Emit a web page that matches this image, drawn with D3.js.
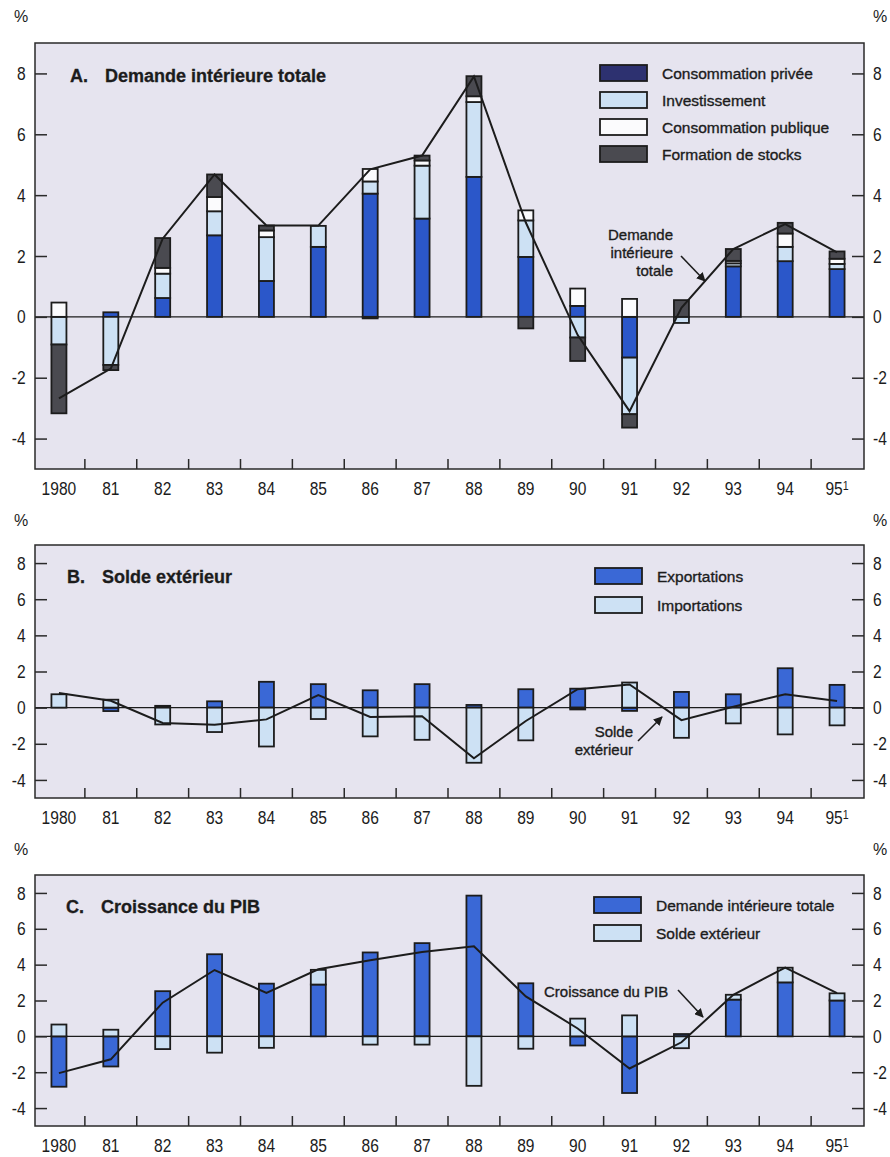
<!DOCTYPE html>
<html>
<head>
<meta charset="utf-8">
<script src="https://cdn.jsdelivr.net/npm/d3@7"></script>
<style>
  body { margin: 0; background: #fff; }
  svg { display: block; }
  text { font-family: "Liberation Sans", Arial, Helvetica, sans-serif; fill: #1c1c1c; }
  .tick text { font-family: "Liberation Sans", Arial, sans-serif; font-size: 19px; fill: #1c1c1c; }
  .pct { font-size: 16px; }
  .title { font-weight: bold; font-size: 18px; stroke: #1c1c1c; stroke-width: 0.3px; }
  .legend-text { font-size: 15.5px; stroke: #1c1c1c; stroke-width: 0.35px; }
  .note { font-size: 15px; stroke: #1c1c1c; stroke-width: 0.35px; }
</style>
</head>
<body>
<svg id="chart" width="890" height="1157"></svg>
<script>
// ---- Categories and ticks ----
const years = ["1980", "81", "82", "83", "84", "85", "86", "87", "88", "89", "90", "91", "92", "93", "94", "95"];
const yTicks = [-4, -2, 0, 2, 4, 6, 8];

// ---- A. Demande intérieure totale (contributions, %) ----
const consoPrivee   = [0.00, 0.15, 0.62, 2.68, 1.18, 2.30, 4.05, 3.23, 4.60, 1.97, 0.36, -1.34, 0.00, 1.66, 1.83, 1.57];
const investissement = [-0.91, -1.58, 0.80, 0.79, 1.44, 0.69, 0.40, 1.74, 2.46, 1.20, -0.68, -1.86, -0.20, 0.10, 0.47, 0.17];
const consoPublique = [0.47, 0.00, 0.19, 0.47, 0.22, 0.00, 0.41, 0.17, 0.19, 0.33, 0.57, 0.59, 0.00, 0.08, 0.44, 0.17];
const stocks        = [-2.26, -0.17, 0.98, 0.74, 0.16, 0.00, -0.05, 0.16, 0.66, -0.38, -0.77, -0.44, 0.55, 0.39, 0.35, 0.24];
const demandeTotale = [-2.68, -1.70, 2.57, 4.68, 3.00, 3.00, 4.85, 5.30, 7.90, 3.10, -0.60, -3.10, 0.30, 2.23, 3.05, 2.12];

// ---- B. Solde extérieur ----
const exportations = [0.00, -0.19, 0.10, 0.35, 1.43, 1.30, 0.96, 1.30, 0.15, 1.02, 1.05, -0.18, 0.87, 0.74, 2.18, 1.26];
const importations = [0.74, 0.44, -0.93, -1.35, -2.15, -0.63, -1.59, -1.78, -3.05, -1.81, -0.10, 1.39, -1.67, -0.87, -1.48, -0.98];
const soldeExterieur = [0.81, 0.38, -0.85, -0.95, -0.65, 0.69, -0.52, -0.48, -2.80, -0.74, 1.02, 1.28, -0.69, 0.05, 0.74, 0.37];

// ---- C. Croissance du PIB ----
const contribDemande = [-2.81, -1.68, 2.52, 4.58, 2.94, 2.89, 4.68, 5.20, 7.85, 2.96, -0.51, -3.16, 0.13, 2.05, 3.01, 2.00];
const contribSolde   = [0.66, 0.37, -0.71, -0.91, -0.64, 0.82, -0.46, -0.46, -2.76, -0.69, 0.99, 1.17, -0.66, 0.27, 0.82, 0.40];
const croissancePIB  = [-2.05, -1.28, 1.88, 3.70, 2.43, 3.74, 4.25, 4.71, 5.02, 2.23, 0.44, -1.79, -0.33, 2.32, 3.84, 2.41];

// ---- Styling ----
const C = {
  plotBg: "#e6e4ef",
  blue: "#2b57c9",
  blueB: "#3a68d6",
  navy: "#2d3170",
  light: "#cde1f4",
  white: "#fbfbfd",
  stock: "#4a4a50",
  ink: "#1c1c1c"
};
const narrow = "scale(0.82,1)";

const svg = d3.select("#chart");
const defs = svg.append("defs");
defs.append("marker")
  .attr("id", "arrow")
  .attr("viewBox", "0 0 10 10")
  .attr("refX", 9).attr("refY", 5)
  .attr("markerWidth", 9).attr("markerHeight", 9)
  .attr("markerUnits", "userSpaceOnUse")
  .attr("orient", "auto")
  .append("path").attr("d", "M0,0 L10,5 L0,10 Z").attr("fill", C.ink);

const frameL = 35, frameR = 864;
const x = d3.scaleBand().domain(years).range([33, 863]).padding(0);
const barW = 15;

function drawPanel(p) {
  const g = svg.append("g");
  const y = d3.scaleLinear().domain([-5, 9]).range([p.bottom, p.top]);

  // plot background
  g.append("rect")
    .attr("x", frameL).attr("y", p.top)
    .attr("width", frameR - frameL).attr("height", p.bottom - p.top)
    .attr("fill", C.plotBg);

  // zero line
  g.append("line")
    .attr("x1", frameL).attr("x2", frameR)
    .attr("y1", y(0)).attr("y2", y(0))
    .attr("stroke", C.ink).attr("stroke-width", 1.2);

  // stacked bars
  const rows = years.map((yr, i) => {
    const r = { year: yr };
    p.series.forEach(s => { r[s.key] = s.values[i]; });
    return r;
  });
  const stacked = d3.stack()
    .keys(p.series.map(s => s.key))
    .offset(d3.stackOffsetDiverging)(rows);

  stacked.forEach((layer, li) => {
    g.append("g").selectAll("rect")
      .data(layer.filter(d => Math.abs(d[1] - d[0]) > 1e-9))
      .join("rect")
      .attr("x", d => x(d.data.year) + (x.bandwidth() - barW) / 2)
      .attr("y", d => y(Math.max(d[0], d[1])))
      .attr("width", barW)
      .attr("height", d => Math.abs(y(d[0]) - y(d[1])))
      .attr("fill", p.series[li].color)
      .attr("stroke", C.ink)
      .attr("stroke-width", 1.8);
  });

  // line series
  const line = d3.line()
    .x((d, i) => x(years[i]) + x.bandwidth() / 2)
    .y(d => y(d));
  g.append("path")
    .datum(p.line)
    .attr("d", line)
    .attr("fill", "none")
    .attr("stroke", C.ink)
    .attr("stroke-width", 2)
    .attr("stroke-linejoin", "miter");

  // frame
  g.append("rect")
    .attr("x", frameL).attr("y", p.top)
    .attr("width", frameR - frameL).attr("height", p.bottom - p.top)
    .attr("fill", "none").attr("stroke", "#2a2a2a").attr("stroke-width", 1.5);

  // y axes (ticks pointing inward, labels outside)
  const fmt = d => String(d);
  const left = g.append("g").attr("transform", `translate(${frameL},0)`)
    .call(d3.axisLeft(y).tickValues(yTicks).tickFormat(fmt).tickSizeInner(-12).tickSizeOuter(0).tickPadding(11.5));
  const right = g.append("g").attr("transform", `translate(${frameR},0)`)
    .call(d3.axisRight(y).tickValues(yTicks).tickFormat(fmt).tickSizeInner(-12).tickSizeOuter(0).tickPadding(11));
  [left, right].forEach(a => {
    a.select(".domain").remove();
    a.selectAll(".tick line").attr("stroke", "#2a2a2a").attr("stroke-width", 1.5);
    a.selectAll(".tick text").attr("transform", narrow);
  });

  // x axis: labels at band centres, tick marks at band boundaries
  const bottomAxis = g.append("g").attr("transform", `translate(0,${p.bottom})`)
    .call(d3.axisBottom(x).tickSize(0).tickPadding(13));
  bottomAxis.select(".domain").remove();
  bottomAxis.selectAll(".tick text").attr("transform", narrow);
  bottomAxis.selectAll(".tick text").filter(d => d === "95")
    .text("95")
    .append("tspan").attr("dy", "-0.45em").attr("font-size", "13px").text("1");

  g.append("g").selectAll("line")
    .data(years.slice(1))
    .join("line")
    .attr("x1", d => x(d)).attr("x2", d => x(d))
    .attr("y1", p.bottom).attr("y2", p.bottom - 10)
    .attr("stroke", "#2a2a2a").attr("stroke-width", 1.5);

  // % unit labels
  g.append("text").attr("class", "pct").attr("x", 14).attr("y", p.pctY).text("%");
  g.append("text").attr("class", "pct").attr("x", 873).attr("y", p.pctY).text("%");

  // title
  g.append("text").attr("class", "title").attr("x", p.titleX).attr("y", p.titleY).text(p.letter);
  g.append("text").attr("class", "title").attr("x", p.titleX + 35).attr("y", p.titleY).text(p.title);

  // legend
  p.legend.forEach((item, i) => {
    const ly = p.legendY + i * p.legendStep;
    g.append("rect")
      .attr("x", p.legendX).attr("y", ly)
      .attr("width", 47).attr("height", 16)
      .attr("fill", item.color).attr("stroke", C.ink).attr("stroke-width", 1.8);
    g.append("text").attr("class", "legend-text")
      .attr("x", p.legendX + 62).attr("y", ly + 13.5)
      .text(item.label);
  });

  // annotation
  const note = g.append("text").attr("class", "note").attr("text-anchor", p.note.anchor);
  p.note.lines.forEach((t, i) => {
    note.append("tspan").attr("x", p.note.x).attr("y", p.note.y + i * 18).text(t);
  });
  g.append("path")
    .attr("d", `M${p.note.arrow[0]},${p.note.arrow[1]} L${p.note.arrow[2]},${p.note.arrow[3]}`)
    .attr("stroke", C.ink).attr("stroke-width", 1.6)
    .attr("marker-end", "url(#arrow)");
}

drawPanel({
  top: 43, bottom: 469, pctY: 22,
  letter: "A.", title: "Demande intérieure totale", titleX: 70, titleY: 82,
  series: [
    { key: "privee", values: consoPrivee, color: C.blue },
    { key: "invest", values: investissement, color: C.light },
    { key: "publique", values: consoPublique, color: C.white },
    { key: "stocks", values: stocks, color: C.stock }
  ],
  line: demandeTotale,
  legendX: 600, legendY: 65, legendStep: 27,
  legend: [
    { label: "Consommation privée", color: C.navy },
    { label: "Investissement", color: C.light },
    { label: "Consommation publique", color: C.white },
    { label: "Formation de stocks", color: C.stock }
  ],
  note: { anchor: "end", x: 673, y: 240, lines: ["Demande", "intérieure", "totale"], arrow: [681, 256, 705, 281] }
});

drawPanel({
  top: 545, bottom: 798, pctY: 526,
  letter: "B.", title: "Solde extérieur", titleX: 67, titleY: 583,
  series: [
    { key: "exports", values: exportations, color: C.blueB },
    { key: "imports", values: importations, color: C.light }
  ],
  line: soldeExterieur,
  legendX: 595, legendY: 568, legendStep: 29,
  legend: [
    { label: "Exportations", color: C.blueB },
    { label: "Importations", color: C.light }
  ],
  note: { anchor: "end", x: 633, y: 737, lines: ["Solde", "extérieur"], arrow: [638, 741, 662, 717] }
});

drawPanel({
  top: 875, bottom: 1126, pctY: 855,
  letter: "C.", title: "Croissance du PIB", titleX: 66, titleY: 913,
  series: [
    { key: "demande", values: contribDemande, color: C.blueB },
    { key: "solde", values: contribSolde, color: C.light }
  ],
  line: croissancePIB,
  legendX: 594, legendY: 897, legendStep: 28,
  legend: [
    { label: "Demande intérieure totale", color: C.blueB },
    { label: "Solde extérieur", color: C.light }
  ],
  note: { anchor: "start", x: 544, y: 997, lines: ["Croissance du PIB"], arrow: [678, 990, 703, 1017] }
});
</script>
</body>
</html>
